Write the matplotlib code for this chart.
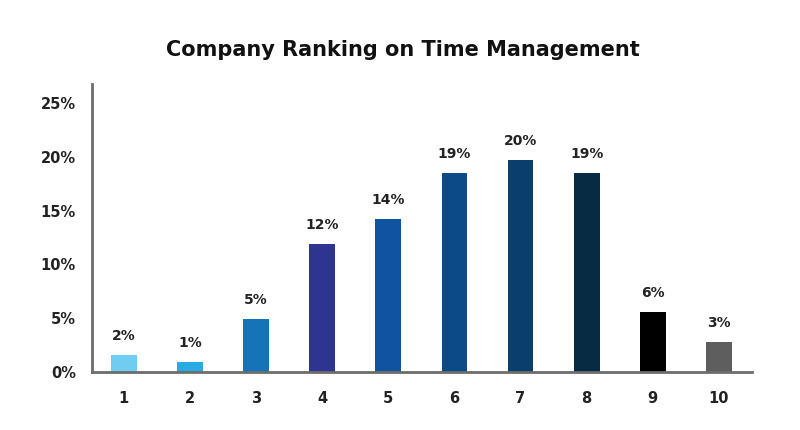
import numpy as np
import matplotlib
matplotlib.use('Agg')
import matplotlib.pyplot as plt
plt.rcParams['font.family'] = ['DejaVu Sans']

ranks = ['1', '2', '3', '4', '5', '6', '7', '8', '9', '10']
share = [1.6, 0.95, 4.95, 11.9, 14.2, 18.5, 19.7, 18.5, 5.55, 2.8]
labels = ['2%', '1%', '5%', '12%', '14%', '19%', '20%', '19%', '6%', '3%']
colors = ['#6fcdf2', '#29aae1', '#1673b8', '#2e3590', '#0e54a0',
          '#0b4a86', '#0a3e6b', '#062b42', '#000000', '#5e5e5e']

fig = plt.figure(figsize=(8, 4.3), dpi=100)
ax = fig.add_axes([0.115, 0.135, 0.825, 0.67])

x = np.arange(1, len(ranks) + 1)
bars = ax.bar(x, share, width=0.39, color=colors)
for b, lab in zip(bars, labels):
    ax.text(b.get_x() + b.get_width() / 2, b.get_height() + 1.1, lab,
            ha='center', va='bottom', fontsize=10, fontweight='bold', color='#222222')

ax.set_xlim(0.52, 10.5)
ax.set_ylim(0, 26.8)
ax.set_xticks(x)
ax.set_xticklabels(ranks)
ax.set_yticks([0, 5, 10, 15, 20, 25])
ax.set_yticklabels(['0%', '5%', '10%', '15%', '20%', '25%'])
ax.tick_params(length=0, labelsize=10.5, colors='#222222')
ax.tick_params(axis='x', pad=14)
ax.tick_params(axis='y', pad=11.5)
for lab in ax.get_xticklabels() + ax.get_yticklabels():
    lab.set_fontweight('bold')

for s in ['top', 'right']:
    ax.spines[s].set_visible(False)
for s in ['left', 'bottom']:
    ax.spines[s].set_color('#6d6d6d')
    ax.spines[s].set_linewidth(2)

fig.text(0.504, 0.883, 'Company Ranking on Time Management', ha='center', va='center',
         fontsize=15, fontweight='bold', color='#111111')

fig.savefig('out.png', dpi=100)
